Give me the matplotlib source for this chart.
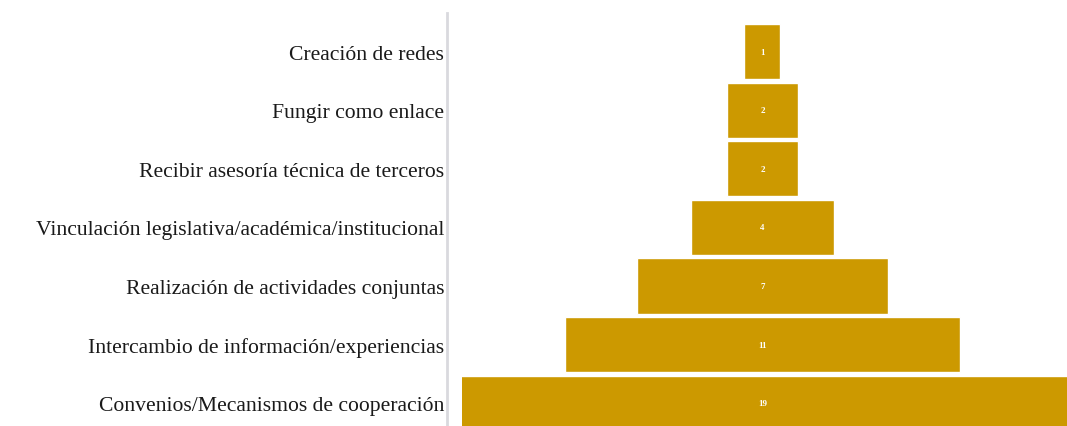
import numpy as np
import matplotlib
matplotlib.use("Agg")
from matplotlib import pyplot as plt

plt.rcParams["font.family"] = ["Liberation Serif", "DejaVu Serif"]

# categories from top to bottom and their counts
categorias = ["Creación de redes",
              "Fungir como enlace",
              "Recibir asesoría técnica de terceros",
              "Vinculación legislativa/académica/institucional",
              "Realización de actividades conjuntas",
              "Intercambio de información/experiencias",
              "Convenios/Mecanismos de cooperación"]
valores = [1, 2, 2, 4, 7, 11, 19]

W, H = 1067, 427
fig = plt.figure(figsize=(W / 100, H / 100), dpi=100)

# axes placed in pixels; the bottom and right run past the figure edge
left_px, right_px, top_px, bottom_px = 462, 1107, 14, 444
ax = fig.add_axes([left_px / W, (H - bottom_px) / H,
                   (right_px - left_px) / W, (bottom_px - top_px) / H])

# spine first: set_position resets the ticks
for s in ["top", "right", "bottom"]:
    ax.spines[s].set_visible(False)
ax.spines["left"].set_position(("outward", 10.8))
ax.spines["left"].set_color("#d9d9de")
ax.spines["left"].set_linewidth(2)

y = np.arange(len(categorias))
v = np.array(valores, dtype=float)
ax.barh(y, v, left=-v / 2, height=0.94, color="#CC9900",
        edgecolor="white", linewidth=1.0)

for yi, val in zip(y, valores):
    ax.text(0, yi, str(val), ha="center", va="center", color="white",
            fontsize=6.5, fontweight="bold")

ax.set_xlim(-8.37, 9.6)
ax.set_ylim(6.68, -0.66)

ax.set_yticks(y)
ax.set_yticklabels(categorias, fontsize=15.6, color="#1a1a1a")
ax.tick_params(axis="y", length=0, pad=2)
ax.set_xticks([])

fig.savefig("out.png", dpi=100)
